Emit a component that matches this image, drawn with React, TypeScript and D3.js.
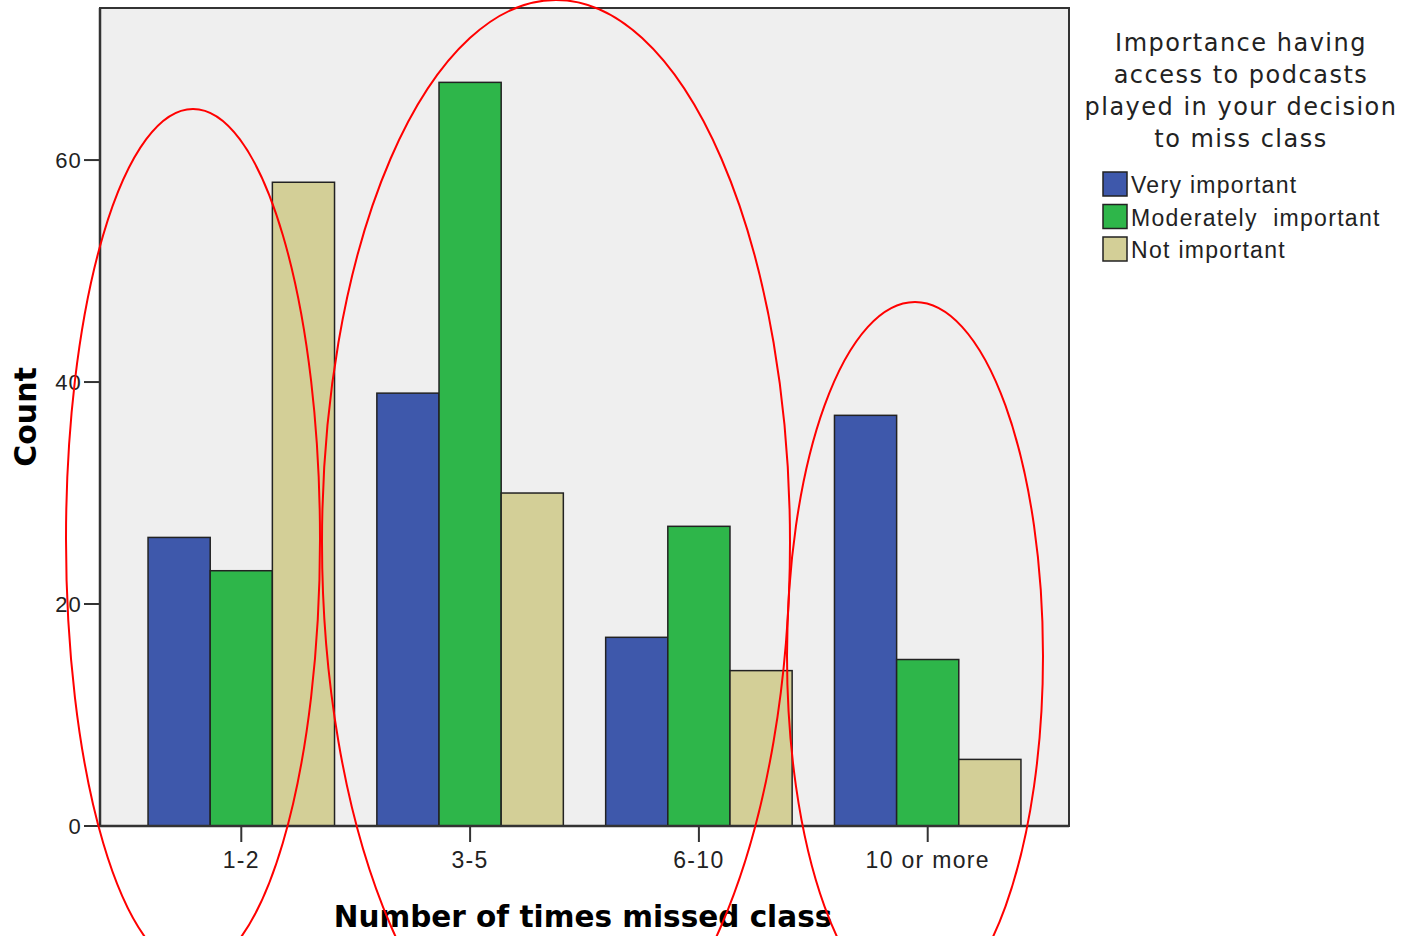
import React from "react";
import * as d3 from "d3";

const categories = ["1-2", "3-5", "6-10", "10 or more"];
const seriesNames = ["Very important", "Moderately  important", "Not important"];
const veryImportant = [26, 39, 17, 37];
const moderatelyImportant = [23, 67, 27, 15];
const notImportant = [58, 30, 14, 6];
const yTicks = [0, 20, 40, 60];
const legendTitle = ["Importance having", "access to podcasts", "played in your decision", "to miss class"];
const colors = ["#3E58AB", "#2EB64A", "#D3CF97"];

const W = 1416;
const H = 936;
const plot = { left: 100, right: 1069, top: 8, bottom: 826 };

export default function App() {
  const series = [veryImportant, moderatelyImportant, notImportant];
  const x0 = d3
    .scaleBand<string>()
    .domain(categories)
    .range([plot.left, plot.right])
    .paddingInner(0.185)
    .paddingOuter(0.21);
  const x1 = d3
    .scaleBand<number>()
    .domain([0, 1, 2])
    .range([0, x0.bandwidth()]);
  const y = d3.scaleLinear().domain([0, 73.7]).range([plot.bottom, plot.top]);

  const tickFont = "'Liberation Sans', Arial, sans-serif";
  const ellipses = [
    { cx: 193, cy: 539, rx: 127, ry: 430 },
    { cx: 556, cy: 542, rx: 234, ry: 542 },
    { cx: 915, cy: 656, rx: 128, ry: 354 },
  ];

  return (
    <svg
      width={W}
      height={H}
      style={{ position: "absolute", left: 0, top: 0, background: "#fff" }}
    >
      <rect
        x={plot.left}
        y={plot.top}
        width={plot.right - plot.left}
        height={plot.bottom - plot.top}
        fill="#EFEFEF"
        stroke="#333"
        strokeWidth={2}
      />
      {categories.map((c, i) => (
        <g key={c}>
          {series.map((s, j) => (
            <rect
              key={j}
              x={(x0(c) as number) + (x1(j) as number)}
              y={y(s[i])}
              width={x1.bandwidth()}
              height={y(0) - y(s[i])}
              fill={colors[j]}
              stroke="#222"
              strokeWidth={1.5}
            />
          ))}
        </g>
      ))}
      <line x1={plot.left} x2={plot.left} y1={plot.top} y2={plot.bottom} stroke="#333" strokeWidth={2.5} />
      <line x1={plot.left} x2={plot.right} y1={plot.bottom} y2={plot.bottom} stroke="#333" strokeWidth={2.5} />
      {yTicks.map((t) => (
        <g key={t}>
          <line x1={plot.left - 16} x2={plot.left} y1={y(t)} y2={y(t)} stroke="#333" strokeWidth={2} />
          <text
            x={plot.left - 18}
            y={y(t)}
            dy="0.36em"
            textAnchor="end"
            fontFamily={tickFont}
            fontSize={22}
            letterSpacing={1.2}
            fill="#222"
          >
            {t}
          </text>
        </g>
      ))}
      {categories.map((c) => {
        const cx = (x0(c) as number) + x0.bandwidth() / 2;
        return (
          <g key={c}>
            <line x1={cx} x2={cx} y1={plot.bottom} y2={plot.bottom + 16} stroke="#333" strokeWidth={2} />
            <text
              x={cx}
              y={868}
              textAnchor="middle"
              fontFamily={tickFont}
              fontSize={23}
              letterSpacing={1.3}
              fill="#222"
            >
              {c}
            </text>
          </g>
        );
      })}
      <text
        x={583}
        y={927}
        textAnchor="middle"
        fontFamily="'DejaVu Sans', sans-serif"
        fontWeight="bold"
        fontSize={29.5}
        fill="#000"
      >
        Number of times missed class
      </text>
      <text
        transform={`translate(36, ${(plot.top + plot.bottom) / 2}) rotate(-90)`}
        textAnchor="middle"
        fontFamily="'DejaVu Sans', sans-serif"
        fontWeight="bold"
        fontSize={30}
        fill="#000"
      >
        Count
      </text>
      {legendTitle.map((l, i) => (
        <text
          key={l}
          x={1241}
          y={51 + i * 32}
          textAnchor="middle"
          fontFamily="'DejaVu Sans', sans-serif"
          fontSize={24}
          letterSpacing={1.5}
          fill="#222"
        >
          {l}
        </text>
      ))}
      {seriesNames.map((n, i) => (
        <g key={n}>
          <rect
            x={1103}
            y={172 + i * 32.5}
            width={24}
            height={24}
            fill={colors[i]}
            stroke="#222"
            strokeWidth={1.5}
          />
          <text
            x={1131}
            y={185 + i * 32.5}
            dy="0.36em"
            fontFamily={tickFont}
            fontSize={23}
            letterSpacing={1.3}
            fill="#222"
            style={{ whiteSpace: "pre" }}
          >
            {n}
          </text>
        </g>
      ))}
      {ellipses.map((e, i) => (
        <ellipse key={i} cx={e.cx} cy={e.cy} rx={e.rx} ry={e.ry} fill="none" stroke="#FF0000" strokeWidth={2} />
      ))}
    </svg>
  );
}
